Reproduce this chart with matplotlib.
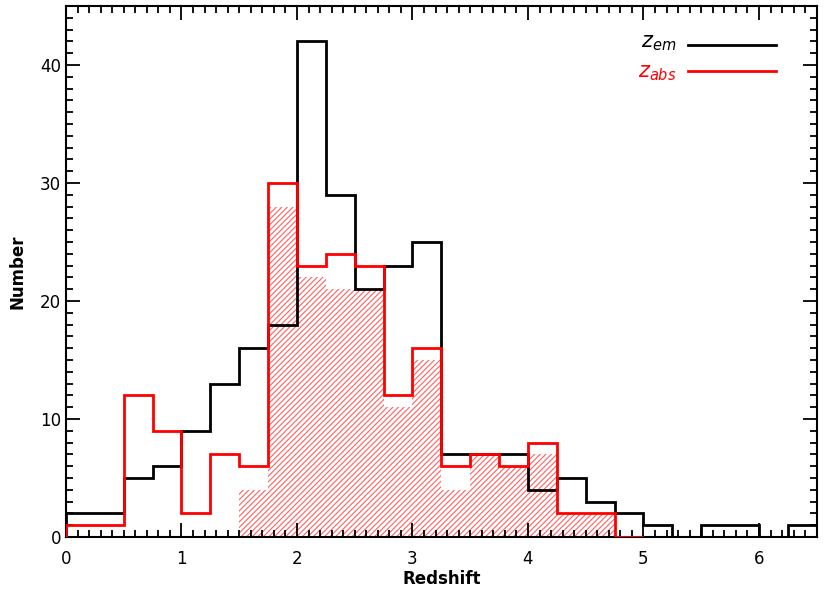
# redshift histograms: z_em vs z_abs
import matplotlib
matplotlib.use('Agg')
import matplotlib.pyplot as plt
import numpy as np

plt.rcParams['font.family'] = ['DejaVu Sans']
plt.rcParams['hatch.linewidth'] = 0.8

# bins of 0.25 in redshift
em_edges = np.arange(0, 6.5 + 0.001, 0.25)
z_em = [2, 2, 5, 6, 9, 13, 16, 18, 42, 29, 21, 23, 25,
        7, 7, 7, 4, 5, 3, 2, 1, 0, 1, 1, 0, 1]

abs_edges = np.arange(0, 5.0 + 0.001, 0.25)
z_abs = [1, 1, 12, 9, 2, 7, 6, 30, 23, 24, 23, 12, 16,
         6, 7, 6, 8, 2, 2, 0]

# hatched sub-sample
sub_edges = np.arange(1.5, 4.75 + 0.001, 0.25)
z_sub = [4, 28, 22, 21, 21, 11, 15, 4, 7, 6, 7, 2, 2]

fig = plt.figure(figsize=(8.3, 5.93), dpi=100)
ax = fig.add_axes([0.0795, 0.0944, 0.9045, 0.8955])

ax.stairs(z_sub, sub_edges, fill=True, facecolor='none', edgecolor='#ff6060',
          hatch='//////', linewidth=0, zorder=1)
ax.stairs(z_em, em_edges, color='black', linewidth=2, zorder=3)
ax.stairs(z_abs, abs_edges, color='red', linewidth=2, zorder=4)

ax.set_xlim(0, 6.5)
ax.set_ylim(0, 45)
ax.set_xticks(np.arange(0, 7, 1))
ax.set_xticks(np.arange(0, 6.5, 0.1), minor=True)
ax.set_yticks([0, 10, 20, 30, 40])
ax.set_yticks(np.arange(0, 46, 1), minor=True)
ax.tick_params(which='both', direction='in', top=True, right=True, width=1.3,
               labelsize=12)
ax.tick_params(which='major', length=10)
ax.tick_params(which='minor', length=5)
ax.tick_params(axis='x', pad=9)
for s in ax.spines.values():
    s.set_linewidth(1.5)

ax.set_xlabel('Redshift', fontsize=12, fontweight='bold', labelpad=2)
ax.set_ylabel('Number', fontsize=12, fontweight='bold', labelpad=10)

# legend: label then line
ax.text(0.813, 0.93, r'$z_{em}$', transform=ax.transAxes, ha='right',
        va='center', fontsize=15, color='black')
ax.text(0.813, 0.874, r'$z_{abs}$', transform=ax.transAxes, ha='right',
        va='center', fontsize=15, color='red')
ax.plot([0.828, 0.946], [0.927, 0.927], transform=ax.transAxes, color='black', lw=2)
ax.plot([0.828, 0.946], [0.878, 0.878], transform=ax.transAxes, color='red', lw=2)

fig.savefig('out.png', dpi=100)
